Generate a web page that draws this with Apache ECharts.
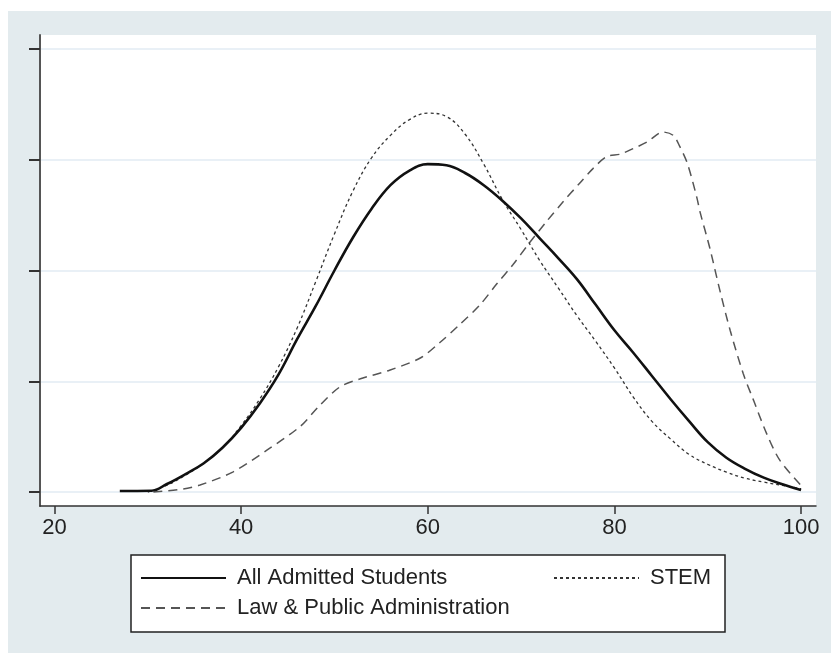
<!DOCTYPE html>
<html><head><meta charset="utf-8">
<script src="https://cdn.jsdelivr.net/npm/echarts@6/dist/echarts.min.js"></script>
<style>html,body{margin:0;padding:0;background:#fff}#c{width:831px;height:653px}</style>
</head><body><div id="c"></div>
<script>
const xTicks = [20, 40, 60, 80, 100];
const yTicks = [0, 1, 2, 3, 4];
const seriesNames = ['All Admitted Students', 'STEM', 'Law & Public Administration'];

const allX = [27.0, 30.4, 32, 34, 36, 38, 40, 42, 44, 46, 48, 50, 52, 54, 56, 58, 60, 62, 64, 66, 68, 70, 72, 74, 76, 78, 80, 82, 84, 86, 88, 90, 92, 94, 96, 98, 100];
const allY = [0.01, 0.012, 0.07, 0.16, 0.26, 0.40, 0.58, 0.80, 1.06, 1.38, 1.68, 2.00, 2.30, 2.56, 2.77, 2.90, 2.96, 2.95, 2.88, 2.77, 2.63, 2.47, 2.29, 2.11, 1.92, 1.69, 1.46, 1.26, 1.05, 0.84, 0.64, 0.45, 0.31, 0.21, 0.13, 0.07, 0.018];

const stemX = [30, 32, 34, 36, 38, 40, 42, 44, 46, 48, 50, 52, 54, 56, 58, 60, 62, 64, 66, 68, 70, 72, 74, 76, 78, 80, 82, 84, 86, 88, 90, 92, 94, 96, 98, 100];
const stemY = [0.0, 0.06, 0.15, 0.26, 0.40, 0.60, 0.84, 1.13, 1.48, 1.90, 2.33, 2.72, 3.02, 3.22, 3.36, 3.42, 3.39, 3.23, 2.96, 2.64, 2.37, 2.09, 1.84, 1.59, 1.36, 1.12, 0.86, 0.64, 0.48, 0.34, 0.25, 0.18, 0.125, 0.09, 0.06, 0.03];

const lawX = [30.6, 33.8, 35.6, 39.1, 42.8, 46.3, 48.4, 50.6, 52.7, 55.9, 59.2, 61.3, 63.4, 65.6, 67.4, 69.1, 70.9, 72.8, 74.5, 76.3, 77.7, 79.2, 80.6, 82.0, 83.5, 85.2, 86.3, 87.0, 87.8, 88.8, 89.2, 90.2, 91.3, 92.4, 93.8, 94.9, 96.3, 97.7, 100];
const lawY = [0.0, 0.027, 0.063, 0.18, 0.38, 0.59, 0.78, 0.95, 1.02, 1.10, 1.21, 1.35, 1.51, 1.69, 1.88, 2.05, 2.25, 2.45, 2.62, 2.79, 2.92, 3.03, 3.05, 3.10, 3.16, 3.25, 3.22, 3.12, 2.97, 2.67, 2.52, 2.21, 1.82, 1.46, 1.07, 0.83, 0.53, 0.29, 0.06];

const pairs = (xs, ys) => xs.map((x, i) => [x, ys[i]]);
const FONT = "'Liberation Sans', Arial, sans-serif";

const chart = echarts.init(document.getElementById('c'), null, {renderer: 'canvas'});
const legendCommon = {
  orient: 'horizontal', padding: 0, itemWidth: 85, itemHeight: 14, selectedMode: false, z: 10,
  itemStyle: {opacity: 0, borderWidth: 0},
  textStyle: {fontFamily: FONT, fontSize: 22, color: '#222', padding: [0, 0, 0, 6]}
};
chart.setOption({
  animation: false,
  backgroundColor: '#e3ebee',
  graphic: [
    {type: 'rect', shape: {x: 0, y: 0, width: 831, height: 11}, style: {fill: '#fff'}, silent: true},
    {type: 'rect', shape: {x: 0, y: 0, width: 8, height: 653}, style: {fill: '#fff'}, silent: true},
    {type: 'rect', shape: {x: 131, y: 555, width: 594, height: 77}, style: {fill: '#fff', stroke: '#222', lineWidth: 1.5}, silent: true}
  ],
  grid: {left: 40, top: 35, right: 15, bottom: 147, show: true, backgroundColor: '#fff', borderWidth: 0},
  legend: [
    Object.assign({}, legendCommon, {data: [seriesNames[0]], left: 140, top: 567}),
    Object.assign({}, legendCommon, {data: [seriesNames[1]], left: 553, top: 567}),
    Object.assign({}, legendCommon, {data: [seriesNames[2]], left: 140, top: 597})
  ],
  xAxis: {
    type: 'value', min: 18.45, max: 101.6,
    axisLine: {onZero: false, lineStyle: {color: '#333', width: 1.5}},
    axisTick: {customValues: xTicks, length: 8, lineStyle: {color: '#333', width: 1.5}},
    axisLabel: {customValues: xTicks, fontFamily: FONT, fontSize: 22, color: '#222', margin: 11},
    splitLine: {show: false}
  },
  yAxis: {
    type: 'value', min: -0.126, max: 4.126,
    axisLine: {show: true, onZero: false, lineStyle: {color: '#555', width: 2}},
    axisTick: {show: true, customValues: yTicks, length: 11, lineStyle: {color: '#333', width: 2}},
    axisLabel: {show: false, customValues: yTicks},
    splitLine: {show: true, lineStyle: {color: '#e2ebf3', width: 1.5}}
  },
  series: [
    {name: seriesNames[0], type: 'line', data: pairs(allX, allY), symbol: 'none', smooth: 0.4, z: 5,
     lineStyle: {color: '#111', width: 2.6}, itemStyle: {color: '#111'}},
    {name: seriesNames[1], type: 'line', data: pairs(stemX, stemY), symbol: 'none', smooth: 0.4, z: 4,
     lineStyle: {color: '#333', width: 1.3, type: [3, 3]}, itemStyle: {color: '#333'}},
    {name: seriesNames[2], type: 'line', data: pairs(lawX, lawY), symbol: 'none', smooth: 0.3, z: 3,
     lineStyle: {color: '#555', width: 1.5, type: [9, 6]}, itemStyle: {color: '#555'}}
  ]
});
</script>
</body></html>
